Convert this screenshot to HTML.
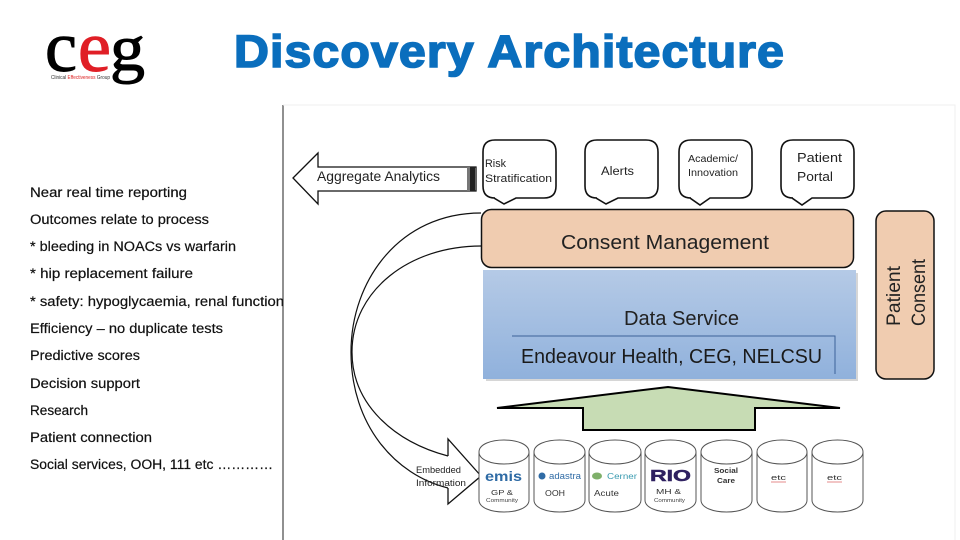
<!DOCTYPE html>
<html><head><meta charset="utf-8"><style>
html,body{margin:0;padding:0;background:#fff}
svg{display:block;font-family:"Liberation Sans",sans-serif}
</style></head><body>
<svg width="960" height="540" viewBox="0 0 960 540" xmlns="http://www.w3.org/2000/svg">
<defs><linearGradient id="b" x1="0" y1="0" x2="0" y2="1"><stop offset="0" stop-color="#b5cae6"/><stop offset="1" stop-color="#90b1dc"/></linearGradient></defs>
<rect width="960" height="540" fill="#fff"/>
<!-- logo -->
<g font-family="Liberation Serif" font-size="72">
<text x="45" y="71" fill="#000" stroke="#000" stroke-width="1" textLength="32" lengthAdjust="spacingAndGlyphs">c</text>
<text x="78" y="71" fill="#e01f26" stroke="#e01f26" stroke-width="1" textLength="33" lengthAdjust="spacingAndGlyphs">e</text>
<text x="110" y="70" fill="#000" stroke="#000" stroke-width="1" font-size="66" textLength="35" lengthAdjust="spacingAndGlyphs">g</text>
</g>
<text x="51" y="79" font-size="5.5" textLength="59" lengthAdjust="spacingAndGlyphs" fill="#333">Clinical <tspan fill="#d22">Effectiveness</tspan> Group</text>
<!-- title -->
<text x="234" y="67" font-size="45" font-weight="bold" fill="#0a6ebd" stroke="#0a6ebd" stroke-width="1.6" letter-spacing="1" textLength="551" lengthAdjust="spacingAndGlyphs">Discovery Architecture</text>
<!-- left list -->
<g font-size="13.5" fill="#111" stroke="#111" stroke-width=".2">
<text x="30" y="197" textLength="157" lengthAdjust="spacingAndGlyphs">Near real time reporting</text>
<text x="30" y="224" textLength="179" lengthAdjust="spacingAndGlyphs">Outcomes relate to process</text>
<text x="30" y="251" textLength="206" lengthAdjust="spacingAndGlyphs">* bleeding in NOACs vs warfarin</text>
<text x="30" y="278" textLength="163" lengthAdjust="spacingAndGlyphs">* hip replacement failure</text>
<text x="30" y="306" textLength="254" lengthAdjust="spacingAndGlyphs">* safety: hypoglycaemia, renal function</text>
<text x="30" y="333" textLength="193" lengthAdjust="spacingAndGlyphs">Efficiency – no duplicate tests</text>
<text x="30" y="360" textLength="110" lengthAdjust="spacingAndGlyphs">Predictive scores</text>
<text x="30" y="388" textLength="110" lengthAdjust="spacingAndGlyphs">Decision support</text>
<text x="30" y="415" textLength="58" lengthAdjust="spacingAndGlyphs">Research</text>
<text x="30" y="442" textLength="122" lengthAdjust="spacingAndGlyphs">Patient connection</text>
<text x="30" y="469" textLength="243" lengthAdjust="spacingAndGlyphs">Social services, OOH, 111  etc …………</text>
</g>
<!-- frame -->
<path d="M283 105V540" stroke="#222" stroke-width="1" fill="none"/>
<path d="M283 105H955V540" stroke="#efefef" stroke-width="1" fill="none"/>
<!-- aggregate arrow -->
<path d="M293 178L318 153V167H476V191H318V204Z" fill="#fff" stroke="#111" stroke-width="1.3"/>
<rect x="467" y="167" width="3" height="24" fill="#777"/><rect x="470" y="167" width="5" height="24" fill="#222"/>
<text x="317" y="181" font-size="13.5" fill="#222" textLength="123" lengthAdjust="spacingAndGlyphs">Aggregate Analytics</text>
<!-- bubbles -->
<g fill="#fff" stroke="#111" stroke-width="1.6">
<path d="M495 140H544Q556 140 556 152V186Q556 198 544 198H516L504 204L494 198H495Q483 198 483 186V152Q483 140 495 140Z"/>
<path d="M597 140H646Q658 140 658 152V186Q658 198 646 198H618L606 204L596 198H597Q585 198 585 186V152Q585 140 597 140Z"/>
<path d="M691 140H740Q752 140 752 152V186Q752 198 740 198H710L700 205L690 198H691Q679 198 679 186V152Q679 140 691 140Z"/>
<path d="M793 140H842Q854 140 854 152V186Q854 198 842 198H812L802 205L792 198H793Q781 198 781 186V152Q781 140 793 140Z"/>
</g>
<g fill="#222">
<text x="485" y="167" font-size="11" textLength="21" lengthAdjust="spacingAndGlyphs">Risk</text>
<text x="485" y="182" font-size="11" textLength="67" lengthAdjust="spacingAndGlyphs">Stratification</text>
<text x="601" y="175" font-size="11.5" textLength="33" lengthAdjust="spacingAndGlyphs">Alerts</text>
<text x="688" y="162" font-size="10" textLength="50" lengthAdjust="spacingAndGlyphs">Academic/</text>
<text x="688" y="176" font-size="10" textLength="50" lengthAdjust="spacingAndGlyphs">Innovation</text>
<text x="797" y="162" font-size="12.5" textLength="45" lengthAdjust="spacingAndGlyphs">Patient</text>
<text x="797" y="181" font-size="12.5" textLength="36" lengthAdjust="spacingAndGlyphs">Portal</text>
</g>
<!-- data service -->
<rect x="486" y="273" width="372" height="108" fill="#bbb" opacity=".6"/>
<rect x="483" y="270" width="373" height="109" fill="url(#b)"/>
<path d="M512 336H835V374" fill="none" stroke="#3c6299" stroke-width="1"/>
<text x="624" y="325" font-size="20" fill="#222" textLength="115" lengthAdjust="spacingAndGlyphs">Data Service</text>
<text x="521" y="363" font-size="20" fill="#1a1a1a" textLength="301" lengthAdjust="spacingAndGlyphs">Endeavour Health, CEG, NELCSU</text>
<!-- consent -->
<rect x="481.500" y="209.500" width="372" height="58" rx="10" fill="#f0ccb0" stroke="#111" stroke-width="1.5"/>
<text x="561" y="249" font-size="20" fill="#222" textLength="208" lengthAdjust="spacingAndGlyphs">Consent Management</text>
<rect x="876" y="211" width="58" height="168" rx="10" fill="#f0ccb0" stroke="#111" stroke-width="1.5"/>
<text transform="translate(900,326) rotate(-90)" font-size="19" fill="#222" textLength="60" lengthAdjust="spacingAndGlyphs">Patient</text>
<text transform="translate(925,326) rotate(-90)" font-size="19" fill="#222" textLength="67" lengthAdjust="spacingAndGlyphs">Consent</text>
<!-- up arrow -->
<path d="M497 408L668 387L840 408H755V430H583V408Z" fill="#c7dcb4" stroke="#000" stroke-width="2" stroke-linejoin="miter"/>
<!-- curves -->
<path d="M481 213C400 213 351 280 351 352C351 425 395 475 448 488" fill="none" stroke="#111" stroke-width="1.2"/>
<path d="M481 246C410 246 352 290 352 352C352 405 395 442 448 456" fill="none" stroke="#111" stroke-width="1.2"/>
<!-- embedded arrow -->
<path d="M448 456V439L481 476L448 504V488" fill="#fff" stroke="#111" stroke-width="1.3"/>
<text x="416" y="473" font-size="9" fill="#222" textLength="45" lengthAdjust="spacingAndGlyphs">Embedded</text>
<text x="416" y="486" font-size="9" fill="#222" textLength="50" lengthAdjust="spacingAndGlyphs">Information</text>
<!-- cylinders -->
<g fill="#fff" stroke="#555" stroke-width="1">
<path d="M479 452C479 436 529 436 529 452V500C529 516 479 516 479 500Z"/><path d="M479 452C479 468 529 468 529 452" fill="none"/>
<path d="M534 452C534 436 585 436 585 452V500C585 516 534 516 534 500Z"/><path d="M534 452C534 468 585 468 585 452" fill="none"/>
<path d="M589 452C589 436 641 436 641 452V500C641 516 589 516 589 500Z"/><path d="M589 452C589 468 641 468 641 452" fill="none"/>
<path d="M645 452C645 436 696 436 696 452V500C696 516 645 516 645 500Z"/><path d="M645 452C645 468 696 468 696 452" fill="none"/>
<path d="M701 452C701 436 752 436 752 452V500C752 516 701 516 701 500Z"/><path d="M701 452C701 468 752 468 752 452" fill="none"/>
<path d="M757 452C757 436 807 436 807 452V500C807 516 757 516 757 500Z"/><path d="M757 452C757 468 807 468 807 452" fill="none"/>
<path d="M812 452C812 436 863 436 863 452V500C863 516 812 516 812 500Z"/><path d="M812 452C812 468 863 468 863 452" fill="none"/>
</g>
<g>
<text x="485" y="481" font-size="14" font-weight="bold" fill="#2f6ba5" textLength="37" lengthAdjust="spacingAndGlyphs">emis</text>
<text x="491" y="495" font-size="7.500" fill="#333" textLength="22" lengthAdjust="spacingAndGlyphs">GP &amp;</text>
<text x="486" y="502" font-size="5.500" fill="#444" textLength="32" lengthAdjust="spacingAndGlyphs">Community</text>
<circle cx="542" cy="476" r="3.500" fill="#2f6ba5"/>
<text x="549" y="479" font-size="9" fill="#2f6ba5" textLength="32" lengthAdjust="spacingAndGlyphs">adastra</text>
<text x="545" y="496" font-size="8" fill="#333" textLength="20" lengthAdjust="spacingAndGlyphs">OOH</text>
<ellipse cx="597" cy="476" rx="5" ry="3.500" fill="#7fb06a"/>
<text x="607" y="479" font-size="8" fill="#3a9bb0" textLength="30" lengthAdjust="spacingAndGlyphs">Cerner</text>
<text x="594" y="496" font-size="8" fill="#333" textLength="25" lengthAdjust="spacingAndGlyphs">Acute</text>
<text x="650" y="481" font-size="16" font-weight="bold" fill="#2e2060" stroke="#2e2060" stroke-width=".5" textLength="41" lengthAdjust="spacingAndGlyphs">RIO</text>
<text x="656" y="494" font-size="7.500" fill="#333" textLength="25" lengthAdjust="spacingAndGlyphs">MH &amp;</text>
<text x="654" y="502" font-size="5.500" fill="#444" textLength="31" lengthAdjust="spacingAndGlyphs">Community</text>
<text x="714" y="473" font-size="7.500" font-weight="bold" fill="#333" textLength="24" lengthAdjust="spacingAndGlyphs">Social</text>
<text x="717" y="483" font-size="7.500" font-weight="bold" fill="#333" textLength="18" lengthAdjust="spacingAndGlyphs">Care</text>
<text x="771" y="480" font-size="7.500" fill="#333" textLength="15" lengthAdjust="spacingAndGlyphs">etc</text>
<text x="827" y="480" font-size="7.500" fill="#333" textLength="15" lengthAdjust="spacingAndGlyphs">etc</text>
</g>
<path d="M771 482h15M827 482h15" stroke="#d66" stroke-width=".7"/>
</svg>
</body></html>
